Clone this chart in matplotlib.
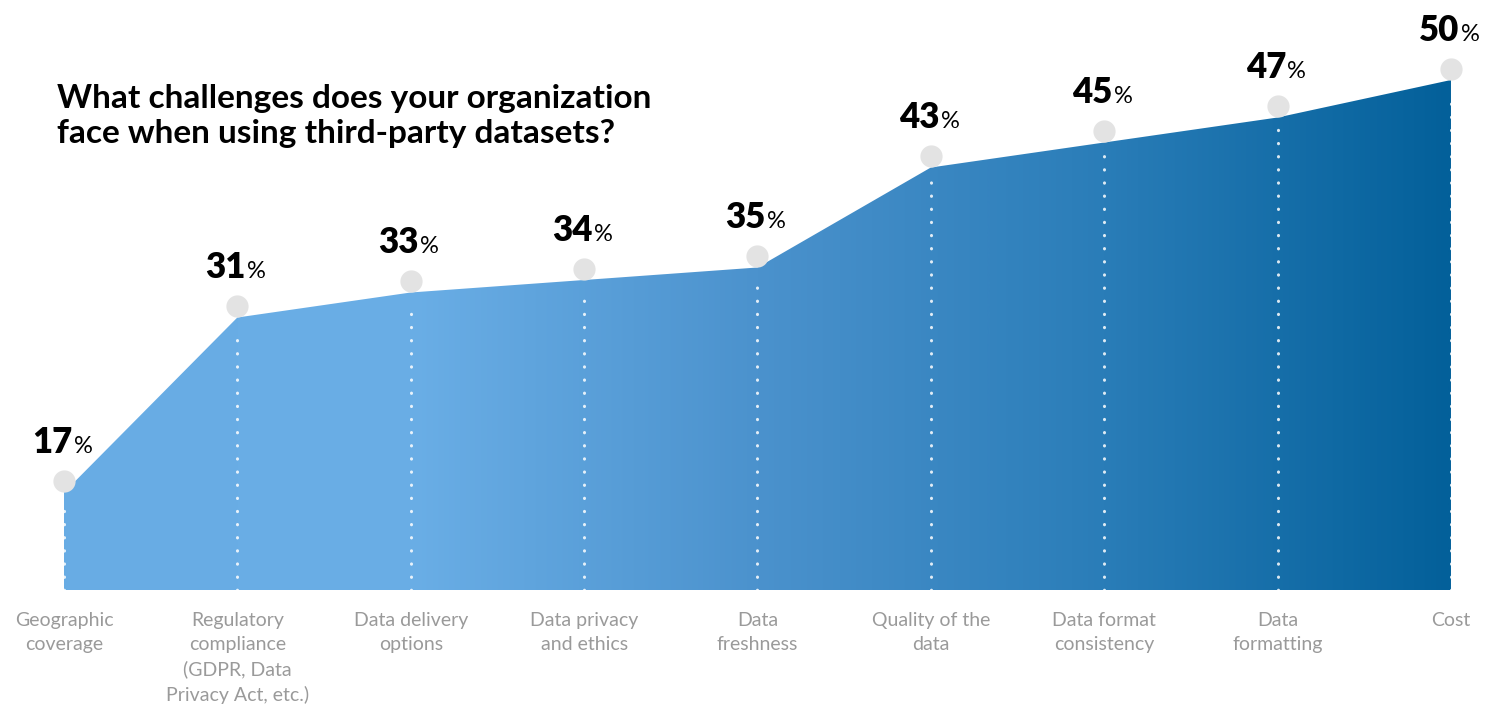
'''
Area chart: challenges when using third-party datasets.
'''

import matplotlib.pyplot as plt
import numpy as np
from matplotlib.colors import LinearSegmentedColormap
from matplotlib.patches import Polygon

categories = [
    'Geographic\ncoverage',
    'Regulatory\ncompliance\n(GDPR, Data\nPrivacy Act, etc.)',
    'Data delivery\noptions',
    'Data privacy\nand ethics',
    'Data\nfreshness',
    'Quality of the\ndata',
    'Data format\nconsistency',
    'Data\nformatting',
    'Cost',
]
values = [17, 31, 33, 34, 35, 43, 45, 47, 50]
title = 'What challenges does your organization\nface when using third-party datasets?'


def main() -> None:
    fig = plt.figure(figsize=(14.86, 7.07), dpi=100)
    ax = fig.add_axes([0, 0, 1, 1])
    ax.set_xlim(-0.369, 8.202)
    ax.set_ylim(-0.16, 56.4)
    ax.axis('off')

    base = 9.2
    x = np.arange(len(values))
    y = np.array(values, dtype=float)

    # gradient fill clipped to the area polygon
    verts = [(x[0], base)] + list(zip(x, y)) + [(x[-1], base)]
    poly = Polygon(verts, closed=True, facecolor='none', edgecolor='none')
    ax.add_patch(poly)
    cmap = LinearSegmentedColormap.from_list(
        'blues', ['#68ace4', '#6aaee6', '#4b92cd', '#2a7db8', '#03609a'])
    grad = np.linspace(0, 1, 512).reshape(1, -1)
    img = ax.imshow(grad, cmap=cmap, aspect='auto',
                    extent=(x[0], x[-1], base, max(values)),
                    origin='lower', zorder=1)
    img.set_clip_path(poly)

    # dotted white guides
    for xi, yi in zip(x, y):
        ax.plot([xi, xi], [base, yi - 0.9], color='white', alpha=0.85,
                linestyle=(0, (0.1, 4.2)), dash_capstyle='round',
                linewidth=2.2, zorder=2)

    # grey markers and value labels
    for xi, yi in zip(x, y):
        ax.plot(xi, yi + 0.9, 'o', markersize=16, color='#e3e3e3',
                markeredgewidth=0, zorder=3)
        ax.annotate(f'{yi:.0f}', xy=(xi, yi + 0.9), xytext=(6, 20),
                    textcoords='offset points', ha='right', va='baseline',
                    fontsize=25, fontweight='heavy', family='Lato',
                    color='black', zorder=4)
        ax.annotate('%', xy=(xi, yi + 0.9), xytext=(7, 20),
                    textcoords='offset points', ha='left', va='baseline',
                    fontsize=17, family='Lato', color='black', zorder=4)

    # category labels
    for xi, cat in zip(x, categories):
        ax.text(xi, base - 1.75, cat, ha='center', va='top', fontsize=14,
                family='Lato', color='#9a9a9a', linespacing=1.5)

    fig.text(57 / 1486, 1 - 84 / 707, title, ha='left', va='top',
             fontsize=24, fontweight='bold', family='Lato',
             color='black', linespacing=1.25)

    plt.savefig('out.png', dpi=100)
    plt.close()


if __name__ == "__main__":
    main()
